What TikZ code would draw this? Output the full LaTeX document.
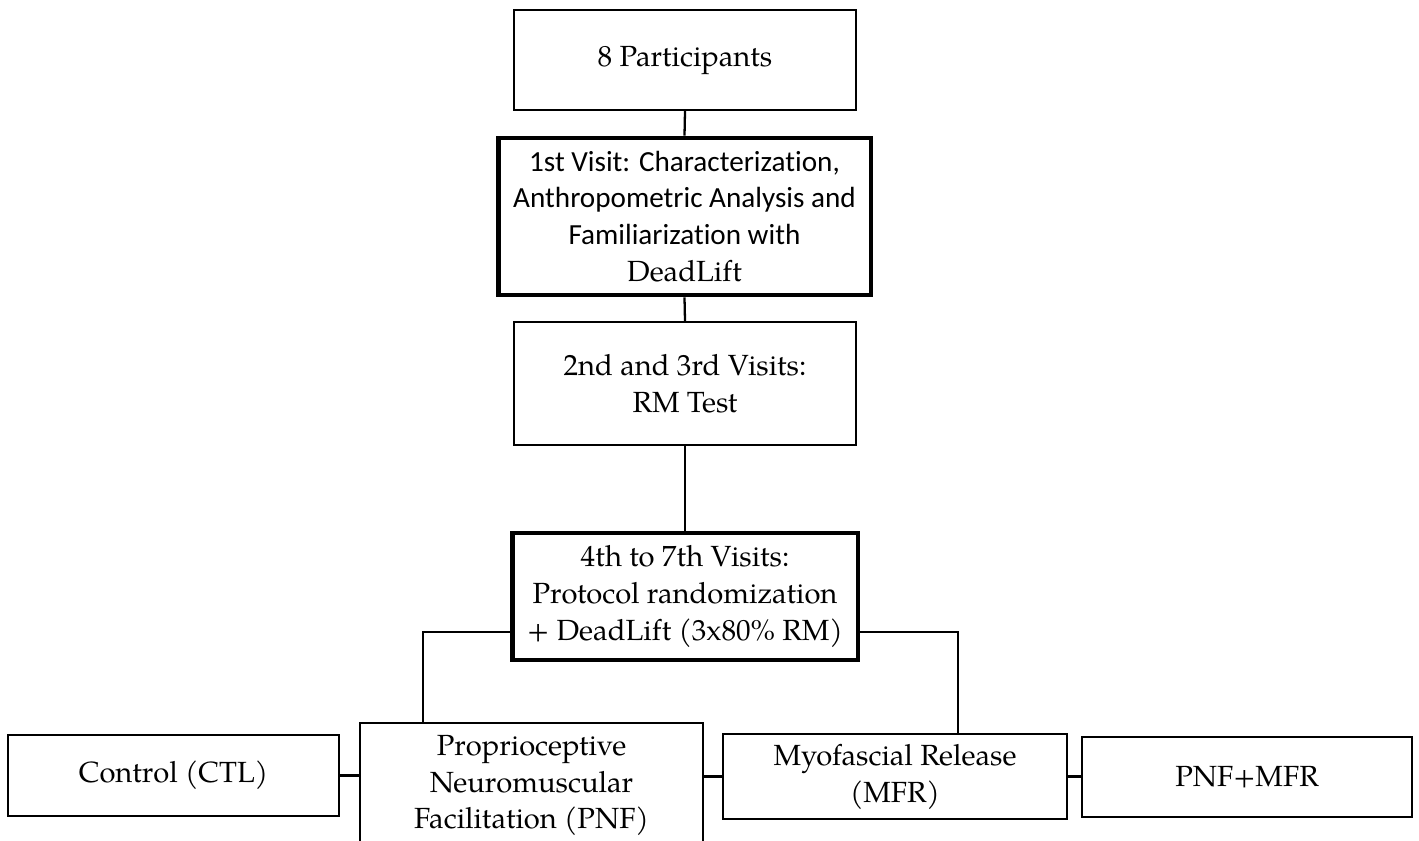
\documentclass[tikz,border=0pt]{standalone}
\usepackage{fontspec}
\setmainfont{texgyrepagella}[Extension=.otf, UprightFont=*-regular, BoldFont=*-bold, ItalicFont=*-italic, BoldItalicFont=*-bolditalic]
\newfontfamily\calibri{Carlito}[Ligatures=NoCommon]
\usepackage{tikz}
\usetikzlibrary{calc}

\tikzset{
  box/.style={draw, line width=1.3pt, align=center, inner sep=0pt, font=\fontsize{16.6}{21}\selectfont},
  thickbox/.style={box, line width=2.8pt},
  link/.style={line width=1.3pt}
}

\begin{document}
\begin{tikzpicture}[x=0.02cm, y=-0.02cm]
  \useasboundingbox (0,0) rectangle (1419,840);
  % main column
  \node[box, minimum width=6.84cm, minimum height=2cm] (parts) at (685,60) {8 Participants};
  \node[thickbox, minimum width=7.46cm, minimum height=3.14cm] (visit1) at (684.5,216.5)
    {{\calibri 1st Visit: Characterization,}\\{\calibri Anthropometric Analysis and}\\{\calibri Familiarization with}\\DeadLift};
  \node[box, minimum width=6.84cm, minimum height=2.46cm] (visit23) at (685,383.5) {2nd and 3rd Visits:\\RM Test};
  \node[thickbox, minimum width=6.92cm, minimum height=2.54cm] (visit47) at (685,596.5)
    {4th to 7th Visits:\\Protocol randomization\\+ DeadLift (3x80\% RM)};
  % protocols
  \node[box, minimum width=6.62cm, minimum height=1.62cm] (ctl) at (173.5,775.5) {Control (CTL)};
  \node[box, minimum width=6.86cm, minimum height=2.5cm] (pnf) at (531.5,785.5)
    {Proprioceptive\\Neuromuscular\\Facilitation (PNF)};
  \node[box, minimum width=6.88cm, minimum height=1.7cm] (mfr) at (895,776.5) {Myofascial Release\\(MFR)};
  \node[box, minimum width=6.6cm, minimum height=1.6cm] (combo) at (1247,777) {PNF+MFR};
  \coordinate (lj) at (423,632);
  \coordinate (rj) at (958,632);
  \draw[link] (parts.south) -- (visit1.north);
  \draw[link] (visit1.south) -- (visit23.north);
  \draw[link] (visit23.south) -- (visit47.north);
  \draw[link] (visit47.west |- lj) -| (lj |- pnf.north);
  \draw[link] (visit47.east |- rj) -| (rj |- mfr.north);
  \draw[link] (ctl.east) -- (ctl.east -| pnf.west);
  \draw[link] (mfr.west -| pnf.east) -- (mfr.west);
  \draw[link] (mfr.east) -- (mfr.east -| combo.west);
\end{tikzpicture}
\end{document}
